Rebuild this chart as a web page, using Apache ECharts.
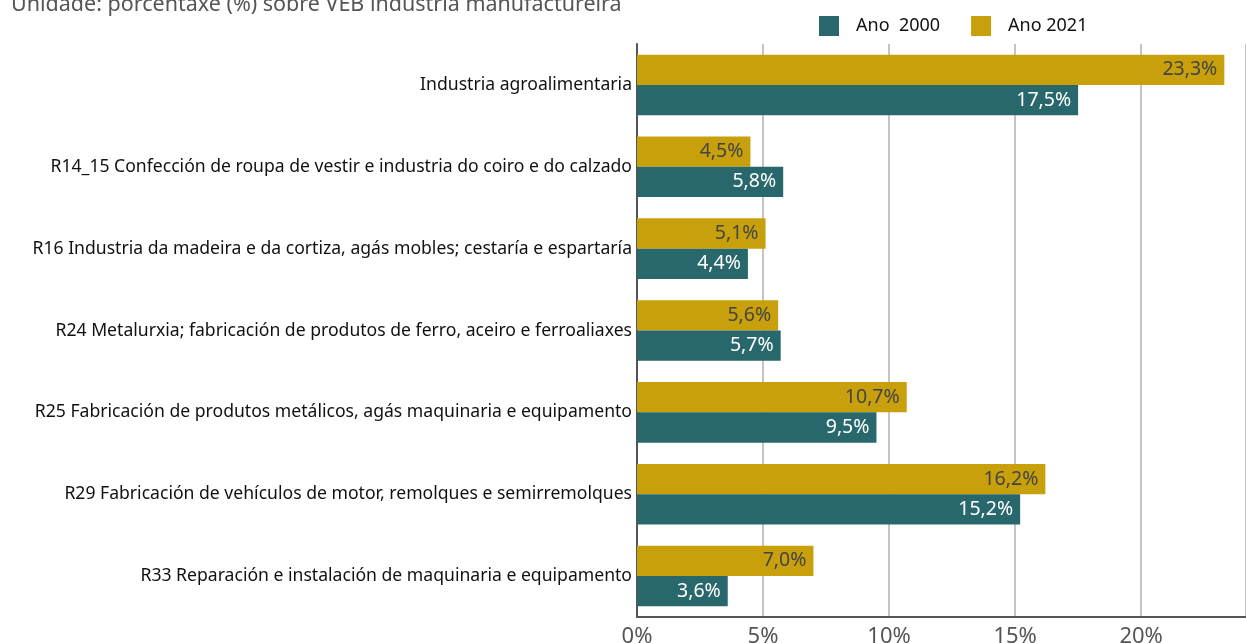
<!DOCTYPE html>
<html>
<head>
	<meta charset="utf-8">
	<title>VEB industria manufactureira</title>
    <script src="https://cdn.jsdelivr.net/npm/echarts@6/dist/echarts.min.js"></script>
    <style>
        html, body { margin: 0; padding: 0; background: #fff; }
    </style>
</head>
<body>
    <div id="main" style="width: 1246px;height:643px;"></div>

	<script>
        // categorías (de arriba a abaixo)
        var categories = [
            'Industria agroalimentaria',
            'R14_15 Confección de roupa de vestir e industria do coiro e do calzado',
            'R16 Industria da madeira e da cortiza, agás mobles; cestaría e espartaría',
            'R24 Metalurxia; fabricación de produtos de ferro, aceiro e ferroaliaxes',
            'R25 Fabricación de produtos metálicos, agás maquinaria e equipamento',
            'R29 Fabricación de vehículos de motor, remolques e semirremolques',
            'R33 Reparación e instalación de maquinaria e equipamento'
        ];
        var ano2000 = [17.5, 5.8, 4.4, 5.7, 9.5, 15.2, 3.6];
        var ano2021 = [23.3, 4.5, 5.1, 5.6, 10.7, 16.2, 7.0];
        var xTicks = [0, 5, 10, 15, 20];

        var fonte = 'Noto Sans';
        function pct(v) { return v.toFixed(1).replace('.', ',') + '%'; }

		var myChart = echarts.init(document.getElementById('main'));

		myChart.setOption({
            animation: false,
            textStyle: { fontFamily: fonte },
            title: {
                text: 'Unidade: porcentaxe (%) sobre VEB industria manufactureira',
                left: 6,
                top: -11,
                textStyle: { fontSize: 21.5, fontWeight: 'normal', color: '#555', fontFamily: fonte }
            },
            legend: {
                data: ['Ano  2000', 'Ano 2021'],
                left: 814,
                top: 11,
                itemWidth: 20,
                itemHeight: 20,
                itemGap: 31,
                icon: 'rect',
                textStyle: { fontSize: 18, color: '#111', padding: [0, 0, 0, 12] }
            },
            // a etiqueta do eixo X queda cortada no orixinal
            grid: { left: 637, right: 0, top: 44, bottom: 26, containLabel: false, outerBoundsMode: 'none' },
            xAxis: {
                type: 'value',
                min: 0,
                max: 24.16,
                interval: 5,
                axisLine: { show: true, lineStyle: { color: '#555', width: 2 } },
                axisTick: { show: false },
                splitLine: { lineStyle: { color: '#c4c4c4', width: 2 } },
                axisLabel: {
                    fontSize: 22,
                    color: '#555',
                    margin: 9,
                    showMaxLabel: false,
                    formatter: function (v) { return xTicks.indexOf(v) >= 0 ? v + '%' : ''; }
                }
            },
            yAxis: {
                type: 'category',
                data: categories,
                inverse: true,
                axisLine: { lineStyle: { color: '#555', width: 2 } },
                axisTick: { show: false },
                axisLabel: { fontSize: 17.6, color: '#111', margin: 5 }
            },
            series: [{
                name: 'Ano 2021',
                type: 'bar',
                data: ano2021,
                barGap: '0%',
                barCategoryGap: '26%',
                itemStyle: { color: '#c7a00c' },
                label: {
                    show: true, position: 'insideRight', distance: 7,
                    fontSize: 19.5, color: '#444',
                    formatter: function (p) { return pct(p.value); }
                }
            }, {
                name: 'Ano  2000',
                type: 'bar',
                data: ano2000,
                barGap: '0%',
                barCategoryGap: '26%',
                itemStyle: { color: '#28686d' },
                label: {
                    show: true, position: 'insideRight', distance: 7,
                    fontSize: 19.5, color: '#fff',
                    formatter: function (p) { return pct(p.value); }
                }
            }]
        });
	</script>

</body>
</html>
